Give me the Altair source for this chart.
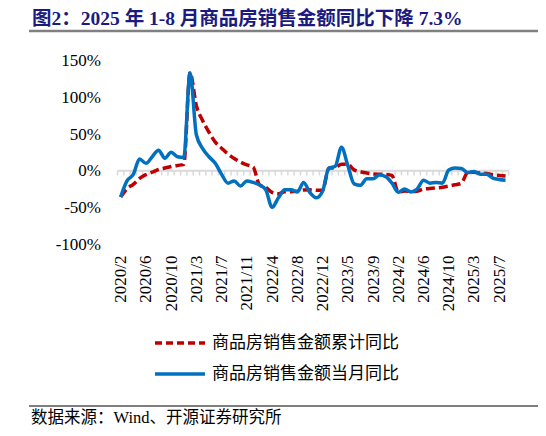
import json
import altair as alt
import pandas as pd

# ---------------- data ----------------
dates = [
    "2020/2", "2020/3", "2020/4", "2020/5", "2020/6", "2020/7", "2020/8", "2020/9", "2020/10", "2020/11", "2020/12",
    "2021/2", "2021/3", "2021/4", "2021/5", "2021/6", "2021/7", "2021/8", "2021/9", "2021/10", "2021/11", "2021/12",
    "2022/2", "2022/3", "2022/4", "2022/5", "2022/6", "2022/7", "2022/8", "2022/9", "2022/10", "2022/11", "2022/12",
    "2023/2", "2023/3", "2023/4", "2023/5", "2023/6", "2023/7", "2023/8", "2023/9", "2023/10", "2023/11", "2023/12",
    "2024/2", "2024/3", "2024/4", "2024/5", "2024/6", "2024/7", "2024/8", "2024/9", "2024/10", "2024/11", "2024/12",
    "2025/2", "2025/3", "2025/4", "2025/5", "2025/6", "2025/7", "2025/8",
]
# 商品房销售金额累计同比 (%)
cum_yoy = [
    -35.9, -24.7, -18.6, -10.6, -5.4, -2.1, 1.6, 3.7, 5.8, 7.2, 8.7,
    133.4, 88.5, 68.2, 52.4, 38.9, 30.7, 22.8, 16.6, 11.8, 8.0, 4.8,
    -19.3, -22.7, -29.5, -31.5, -28.9, -28.8, -27.9, -26.3, -26.1, -26.6, -26.7,
    3.5, 4.1, 8.8, 8.4, 1.1, -1.5, -3.2, -4.6, -4.9, -5.2, -6.5,
    -29.3, -27.6, -28.3, -27.9, -25.0, -24.3, -23.6, -22.7, -20.9, -19.2, -17.1,
    -2.6, -2.1, -3.2, -3.8, -5.5, -6.5, -7.3,
]
# 商品房销售金额当月同比 (%)
month_yoy = [
    -35.9, -14.0, -5.0, 16.0, 10.0, 19.0, 28.0, 17.0, 25.0, 19.0, 18.0,
    133.4, 49.0, 30.0, 19.0, 10.0, -5.0, -17.0, -14.0, -21.0, -14.0, -16.0,
    -19.3, -26.0, -50.0, -37.0, -26.0, -26.0, -29.0, -16.0, -30.0, -37.0, -28.0,
    3.5, 6.0, 32.0, 7.0, -18.0, -20.0, -11.0, -11.0, -6.0, -8.0, -17.0,
    -29.3, -25.0, -29.0, -25.0, -13.0, -17.0, -16.0, -17.0, 1.0, 3.6, 3.0,
    -2.6, -1.0, -5.0, -5.0, -10.0, -12.0, -13.0,
]
tick_labels = [
    "2020/2", "2020/6", "2020/10", "2021/3", "2021/7", "2021/11", "2022/4", "2022/8",
    "2022/12", "2023/5", "2023/9", "2024/2", "2024/6", "2024/10", "2025/3", "2025/7",
]
y_ticks = [-100, -50, 0, 50, 100, 150]

S_CUM = "商品房销售金额累计同比"
S_MON = "商品房销售金额当月同比"
TITLE = "图2：2025 年 1-8 月商品房销售金额同比下降 7.3%"
SOURCE = "数据来源：Wind、开源证券研究所"

RED = "#C00000"
BLUE = "#0070C0"
NAVY = "#1a1a80"
SERIF = "Liberation Serif, Noto Sans CJK SC"
CJK = "Noto Sans CJK SC"

# ---------------- layout ----------------
N = len(dates)
W = 391.2
H = 183.3
PAD = {"left": 109.5, "top": 52.7, "right": 29.3, "bottom": 184}

idx = list(range(N))
df_cum = pd.DataFrame({"i": idx, "value": cum_yoy})
df_mon = pd.DataFrame({"i": idx, "value": month_yoy})
df_bound = pd.DataFrame({"b": [i - 0.5 for i in range(N + 1)], "y0": 0.0, "y1": -6.5})
df_one = pd.DataFrame({"z": [0.0]})

xscale = alt.Scale(domain=[-0.5, N - 0.5], nice=False, zero=False)
yscale = alt.Scale(domain=[-100, 150], nice=False, zero=False)

x_axis = alt.Axis(
    values=[dates.index(t) for t in tick_labels],
    labelExpr=json.dumps(dates, ensure_ascii=False) + "[datum.value]",
    labelAngle=270,
    labelAlign="right",
    labelBaseline="middle",
    labelFont="Liberation Serif",
    labelFontSize=17,
    labelColor="#000000",
    labelPadding=11,
    labelOverlap=False,
    labelFlush=False,
    labelBound=False,
    domain=False,
    ticks=False,
    grid=False,
    title=None,
)
y_axis = alt.Axis(
    values=y_ticks,
    labelExpr="datum.value + '%'",
    labelFont="Liberation Serif",
    labelFontSize=17,
    labelColor="#000000",
    labelPadding=17,
    labelOverlap=False,
    labelFlush=False,
    labelBound=False,
    domain=False,
    ticks=False,
    grid=False,
    title=None,
)

zero_line = alt.Chart(df_one).mark_rule(color="#D9D9D9", strokeWidth=2).encode(
    y=alt.Y("z:Q", scale=yscale, axis=y_axis), x=alt.value(0), x2=alt.value(W)
)
zero_ticks = alt.Chart(df_bound).mark_rule(color="#D9D9D9", strokeWidth=1.5).encode(
    x=alt.X("b:Q", scale=xscale, axis=x_axis),
    y=alt.Y("y0:Q", scale=yscale, axis=y_axis),
    y2=alt.Y2("y1"),
)
line_cum = alt.Chart(df_cum).mark_line(
    color=RED, strokeWidth=3.5, strokeDash=[9, 4], interpolate="monotone"
).encode(
    x=alt.X("i:Q", scale=xscale, axis=x_axis),
    y=alt.Y("value:Q", scale=yscale, axis=y_axis),
)
line_mon = alt.Chart(df_mon).mark_line(
    color=BLUE, strokeWidth=3.5, interpolate="monotone"
).encode(
    x=alt.X("i:Q", scale=xscale, axis=x_axis),
    y=alt.Y("value:Q", scale=yscale, axis=y_axis),
)

# legend (manual, below the chart)
leg1_sym = alt.Chart(df_one).mark_rule(color=RED, strokeWidth=3.5, strokeDash=[7, 4]).encode(
    x=alt.value(37.5), x2=alt.value(87.5), y=alt.value(282.3)
)
leg1_txt = alt.Chart(df_one).mark_text(
    align="left", baseline="middle", font=CJK, fontSize=17, color="#000000"
).encode(x=alt.value(94.5), y=alt.value(282.3), text=alt.value(S_CUM))
leg2_sym = alt.Chart(df_one).mark_rule(color=BLUE, strokeWidth=3.5).encode(
    x=alt.value(37.5), x2=alt.value(87.5), y=alt.value(313.3)
)
leg2_txt = alt.Chart(df_one).mark_text(
    align="left", baseline="middle", font=CJK, fontSize=17, color="#000000"
).encode(x=alt.value(94.5), y=alt.value(313.3), text=alt.value(S_MON))

# title + rules + source
title_txt = alt.Chart(df_one).mark_text(
    align="left", baseline="middle", font=SERIF, fontSize=19.5,
    fontWeight="bold", color=NAVY
).encode(x=alt.value(-85.5), y=alt.value(-41.7), text=alt.value(TITLE))
title_rule = alt.Chart(df_one).mark_rule(color="#808080", strokeWidth=2.5).encode(
    x=alt.value(-88.5), x2=alt.value(W + PAD["right"]), y=alt.value(-29.7)
)
source_rule = alt.Chart(df_one).mark_rule(color="#000000", strokeWidth=1.2).encode(
    x=alt.value(-88.5), x2=alt.value(W + PAD["right"]), y=alt.value(345.3)
)
source_txt = alt.Chart(df_one).mark_text(
    align="left", baseline="middle", font=SERIF, fontSize=16.5, color="#000000"
).encode(x=alt.value(-86.5), y=alt.value(357.5), text=alt.value(SOURCE))

chart = alt.layer(
    zero_line, zero_ticks, line_cum, line_mon,
    leg1_sym, leg1_txt, leg2_sym, leg2_txt,
    title_txt, title_rule, source_rule, source_txt,
).properties(
    width=W,
    height=H,
    autosize=alt.AutoSizeParams(type="none"),
    padding=PAD,
    background="#ffffff",
).configure_view(stroke=None)

chart.save("out.html", embed_options={"renderer": "svg", "actions": False})
